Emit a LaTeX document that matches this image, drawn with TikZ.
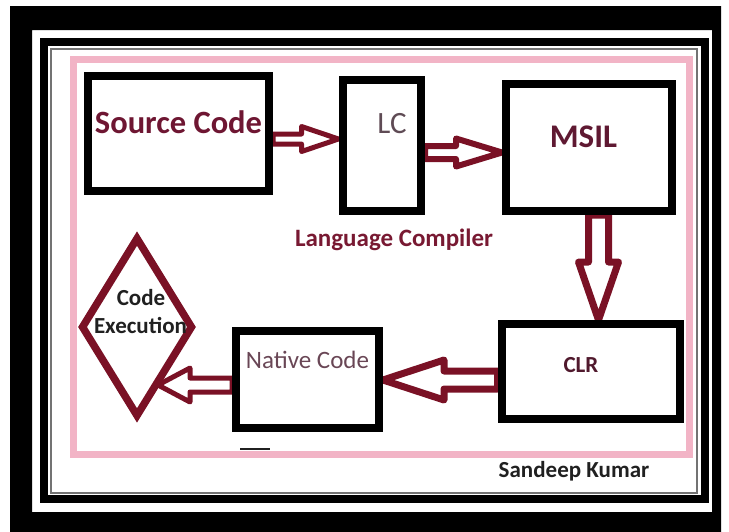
\documentclass[tikz,border=0pt]{standalone}
\usepackage{fontspec}
\setmainfont{Carlito}
\usetikzlibrary{calc,shapes.geometric}
\pgfdeclarelayer{bg}
\pgfsetlayers{bg,main}

\definecolor{arrowred}{RGB}{122,17,37}
\definecolor{framepink}{RGB}{242,180,198}
\definecolor{srccol}{RGB}{110,22,50}
\definecolor{lccol}{RGB}{95,75,85}
\definecolor{msilcol}{RGB}{95,25,50}
\definecolor{clrcol}{RGB}{80,25,45}
\definecolor{natcol}{RGB}{105,70,85}
\definecolor{langcol}{RGB}{120,25,50}
\definecolor{darktext}{RGB}{32,32,32}

\newcommand\setfs[1]{\fontsize{#1}{#1}\selectfont}

% hollow block arrow: [style] {tail} {tip} {shaft half width} {head half width} {head length}
\newcommand\blockarrow[6][]{%
  \coordinate (hb) at ($(#3)!#6!(#2)$);
  \draw[blockarr,#1]
    ($(#2)!#4!90:(#3)$) -- ($(hb)!#4!90:(#3)$) -- ($(hb)!#5!90:(#3)$) --
    (#3) --
    ($(hb)!#5!-90:(#3)$) -- ($(hb)!#4!-90:(#3)$) -- ($(#2)!#4!-90:(#3)$) -- cycle;}

\begin{document}
\begin{tikzpicture}[x=1pt,y=-1pt,
  box/.style={draw=black, line width=8pt, inner sep=0pt, rectangle},
  blockarr/.style={draw=arrowred, fill=white, line join=round},
  lbl/.style={anchor=base, inner sep=0pt}]

\useasboundingbox (0,0) rectangle (729,531);

% boxes
\node[box, minimum width=181pt, minimum height=115pt] (src)  at (178.5,133.5) {};
\node[box, minimum width=78.5pt, minimum height=131pt] (lc)   at (381.75,145.5) {};
\node[box, minimum width=166pt, minimum height=127.5pt] (msil) at (589,147.25) {};
\node[box, minimum width=178pt, minimum height=95pt]  (clr)  at (590.5,371.5) {};
\node[box, minimum width=143pt, minimum height=96.5pt] (nat)  at (307.5,379.25) {};
\node[diamond, draw=arrowred, line width=7.5pt, inner sep=0pt,
      minimum width=112pt, minimum height=180pt] (exec) at (137,327) {};

% labels
\node[lbl, text=srccol, font=\bfseries\setfs{32.5}] (tsrc) at (178.5,133) {Source Code};
\node[lbl, text=lccol, font=\setfs{31}] (tlc) at (392,133) {LC};
\node[lbl, text=msilcol, font=\bfseries\setfs{33}] (tmsil) at (583.5,147) {MSIL};
\node[lbl, text=clrcol, font=\bfseries\setfs{23}] (tclr) at (581,372) {CLR};
\node[lbl, text=natcol, font=\setfs{25}] (tnat) at (307.5,368) {Native Code};
\node[lbl, text=langcol, font=\bfseries\setfs{25}] (tlang) at (394,246) {Language Compiler};
\node[lbl, text=darktext, font=\bfseries\setfs{23}] (tcode) at (141,305) {Code};
\node[lbl, text=darktext, font=\bfseries\setfs{23}] (texec) at (140.5,333) {Execution};
\node[lbl, text=darktext, font=\bfseries\setfs{23}] (tauthor) at (574,477) {Sandeep Kumar};

% arrow end points
\coordinate (a1s) at (src.east |- 0,139);
\coordinate (a1e) at (lc.west |- 0,139);
\coordinate (a2s) at (lc.east |- 0,152.5);
\coordinate (a2e) at (msil.west |- 0,152.5);
\coordinate (a3s) at (msil.south -| 598.5,0);
\coordinate (a3e) at (clr.north -| 598.5,0);
\coordinate (a4s) at (clr.west |- 0,380);
\coordinate (a4e) at (nat.east |- 0,380);
\coordinate (a5s) at (nat.west |- 0,385);
\coordinate (a5e) at (158,385);

\begin{pgfonlayer}{bg}
  % photo-style frame
  \fill[black, even odd rule] (10,6) rectangle (721,540) (32,30) rectangle (712,512);
  \draw[black, line width=8pt] (44,41.5) rectangle (704.5,499);
  \draw[black!55, line width=1.5pt] (51,49) rectangle (697,493);
  \draw[framepink, line width=7pt] (73.5,59.5) rectangle (689,454);
  \draw[darktext, line width=2pt] (240,449) -- (270,449);

  % flow arrows
  \blockarrow[line width=5pt]{a1s}{a1e}{5pt}{12.5pt}{37pt}
  \blockarrow[line width=6pt]{a2s}{a2e}{6.5pt}{14pt}{46pt}
  \blockarrow[line width=7pt]{a3s}{a3e}{10pt}{20pt}{58pt}
  \blockarrow[line width=7pt]{a4s}{a4e}{9pt}{20pt}{61pt}
  \blockarrow[line width=5pt]{a5s}{a5e}{7pt}{17pt}{32pt}
\end{pgfonlayer}
\end{tikzpicture}
\end{document}
